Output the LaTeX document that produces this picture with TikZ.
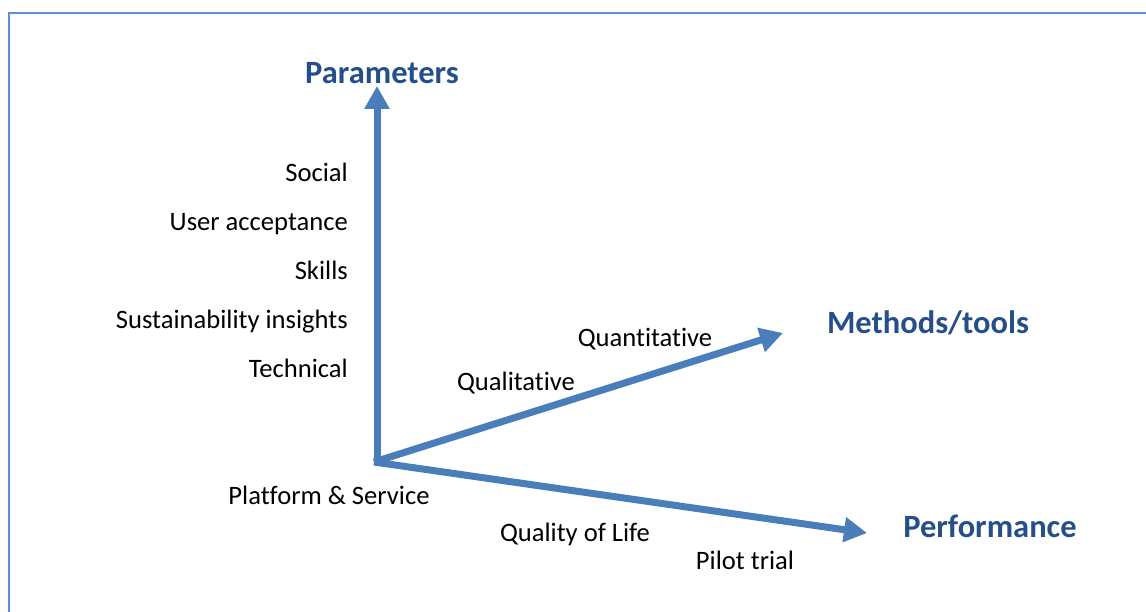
\documentclass[tikz,border=0pt]{standalone}
\usepackage{fontspec}
\setmainfont{Carlito}[Ligatures={NoCommon}]
\usetikzlibrary{arrows.meta}
\definecolor{axisblue}{HTML}{4A7EBB}
\definecolor{titleblue}{HTML}{254F8A}
\definecolor{frameblue}{HTML}{5B8FD6}
\begin{document}
\begin{tikzpicture}[x=1pt,y=-1pt,
  axis/.style={line width=7pt,draw=axisblue,-{Triangle[length=23pt,width=24pt]}},
  title/.style={font=\fontsize{32.5}{36}\selectfont\bfseries,text=titleblue,inner sep=0pt,text height=0.66em,text depth=0.2em},
  lbl/.style={font=\fontsize{26.6}{30}\selectfont,inner sep=0pt,text height=0.66em,text depth=0.2em},
  rlbl/.style={lbl,anchor=east}]
\useasboundingbox (0,0) rectangle (1146,612);
\begin{scope}
\clip (0,0) rectangle (1146,612);
\draw[frameblue,line width=2pt] (9,13) rectangle (1170,640);
\end{scope}
\coordinate (O) at (377,462);
\coordinate (P) at (377,86);
\coordinate (M) at (783,333);
\coordinate (F) at (867,533);
\draw[axis] ([yshift=3.5pt]O) -- (P);
\draw[axis] ([xshift=-3pt]O) -- (M);
\draw[axis] ([xshift=-3pt]O) -- (F);
\node[title] (tp) at (382,81) {Parameters};
\node[title] (tm) at (928,331) {Methods/tools};
\node[title] (tf) at (990,535) {Performance};
\node[rlbl] (l1) at (348,179) {Social};
\node[rlbl] (l2) at (348,228) {User acceptance};
\node[rlbl] (l3) at (348,277) {Skills};
\node[rlbl] (l4) at (348,326) {Sustainability insights};
\node[rlbl] (l5) at (348,375) {Technical};
\node[lbl] (q1) at (645,344) {Quantitative};
\node[lbl] (q2) at (516,388) {Qualitative};
\node[lbl] (p1) at (329,502) {Platform \& Service};
\node[lbl] (p2) at (575,539) {Quality of Life};
\node[lbl] (p3) at (745,567) {Pilot trial};
\end{tikzpicture}
\end{document}
